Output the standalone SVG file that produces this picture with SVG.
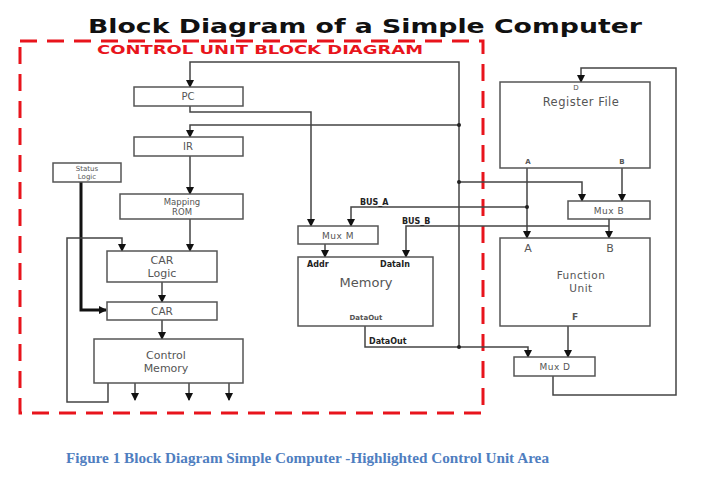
<svg xmlns="http://www.w3.org/2000/svg" width="706" height="482" viewBox="0 0 706 482">
<defs>
<marker id="ah" markerWidth="8" markerHeight="8" refX="7" refY="4" orient="auto" markerUnits="userSpaceOnUse">
<path d="M0,0 L8,4 L0,8 Z" fill="#111"/>
</marker>
<style>
.box{fill:#fff;stroke:#555;stroke-width:1.5}
.ln{fill:none;stroke:#444;stroke-width:1.5}
.t{font-family:"DejaVu Sans",Verdana,sans-serif;fill:#555;text-anchor:middle}
.sb{font-family:"DejaVu Sans",Verdana,sans-serif;font-weight:bold;fill:#222;font-size:8px}
.dot{fill:#222}
</style>
</defs>
<rect width="706" height="482" fill="#fff"/>
<text x="88" y="33" font-family="DejaVu Sans, Verdana, sans-serif" font-weight="bold" font-size="19" fill="#111" textLength="554" lengthAdjust="spacingAndGlyphs">Block Diagram of a Simple Computer</text>
<rect x="20" y="41" width="463" height="372" fill="none" stroke="#e8141c" stroke-width="3" stroke-dasharray="17,10"/>
<text x="97" y="54" font-family="DejaVu Sans, Verdana, sans-serif" font-weight="bold" font-size="11.5" fill="#e8141c" textLength="326" lengthAdjust="spacingAndGlyphs">CONTROL UNIT BLOCK DIAGRAM</text>

<g id="connectors">
<path class="ln" d="M459,347 V62 H190 V87" marker-end="url(#ah)"/>
<path class="ln" d="M459,125 H190 V137" marker-end="url(#ah)"/>
<path class="ln" d="M190,106 V112 H311 V226" marker-end="url(#ah)"/>
<path class="ln" d="M190,156 V194" marker-end="url(#ah)"/>
<path class="ln" d="M190,219 V251" marker-end="url(#ah)"/>
<path fill="none" stroke="#111" stroke-width="3" d="M81,182 V310 H106" marker-end="url(#ah)"/>
<path class="ln" d="M108,383 V402 H67 V238 H122 V251" marker-end="url(#ah)"/>
<path class="ln" d="M162,282 V302" marker-end="url(#ah)"/>
<path class="ln" d="M162,320 V339" marker-end="url(#ah)"/>
<path class="ln" d="M135,383 V400" marker-end="url(#ah)"/>
<path class="ln" d="M189,383 V400" marker-end="url(#ah)"/>
<path class="ln" d="M229,383 V400" marker-end="url(#ah)"/>
<path class="ln" d="M527,207 H351 V226" marker-end="url(#ah)"/>
<path class="ln" d="M609,226 H406 V257" marker-end="url(#ah)"/>
<path class="ln" d="M325,244 V257" marker-end="url(#ah)"/>
<path class="ln" d="M365,326 V347 H528 V357" marker-end="url(#ah)"/>
<path class="ln" d="M459,182 H582 V201" marker-end="url(#ah)"/>
<path class="ln" d="M527,168 V238" marker-end="url(#ah)"/>
<path class="ln" d="M622,168 V201" marker-end="url(#ah)"/>
<path class="ln" d="M609,219 V238" marker-end="url(#ah)"/>
<path class="ln" d="M568,326 V357" marker-end="url(#ah)"/>
<path class="ln" d="M553,376 V395 H676 V68 H581 V82" marker-end="url(#ah)"/>
<circle class="dot" cx="459" cy="125" r="2"/>
<circle class="dot" cx="459" cy="182" r="2"/>
<circle class="dot" cx="459" cy="347" r="2"/>
<circle class="dot" cx="527" cy="207" r="2"/>
<text class="sb" x="360" y="205">BUS_A</text>
<text class="sb" x="402" y="224">BUS_B</text>
<text class="sb" x="369" y="344">DataOut</text>
</g>

<g id="pc"><rect class="box" x="134" y="87" width="109" height="19"/><text class="t" x="188" y="100" font-size="10">PC</text></g>
<g id="ir"><rect class="box" x="134" y="137" width="109" height="19"/><text class="t" x="188" y="150" font-size="10">IR</text></g>
<g id="status-logic"><rect class="box" x="53" y="163" width="68" height="19"/><text class="t" x="87" y="171" font-size="7" fill="#333">Status</text><text class="t" x="87" y="179" font-size="7" fill="#333">Logic</text></g>
<g id="mapping-rom"><rect class="box" x="120" y="194" width="123" height="25"/><text class="t" x="182" y="205" font-size="8.5">Mapping</text><text class="t" x="182" y="215" font-size="8.5">ROM</text></g>
<g id="car-logic"><rect class="box" x="107" y="251" width="110" height="31"/><text class="t" x="162" y="264" font-size="11">CAR</text><text class="t" x="162" y="277" font-size="11">Logic</text></g>
<g id="car"><rect class="box" x="107" y="302" width="110" height="18"/><text class="t" x="162" y="314.5" font-size="10.5">CAR</text></g>
<g id="control-memory"><rect class="box" x="94" y="339" width="149" height="44"/><text class="t" x="166" y="359" font-size="11">Control</text><text class="t" x="166" y="372" font-size="11">Memory</text></g>
<g id="mux-m"><rect class="box" x="298" y="226" width="80" height="18"/><text class="t" x="338" y="238.5" font-size="9" letter-spacing="0.5">Mux M</text></g>
<g id="memory"><rect class="box" x="298" y="257" width="135" height="69"/><text class="sb" x="307" y="267" font-size="7" fill="#333">Addr</text><text class="sb" x="380" y="267" font-size="7" fill="#333">DataIn</text><text class="t" x="366" y="287" font-size="13" fill="#445">Memory</text><text class="t" x="366" y="320" font-size="7" font-weight="bold" fill="#444">DataOut</text></g>
<g id="register-file"><rect class="box" x="500" y="82" width="150" height="86"/><text class="t" x="576" y="90" font-size="7">D</text><text class="t" x="581" y="106" font-size="11.5" letter-spacing="0.5">Register File</text><text class="t" x="528" y="164" font-size="7" font-weight="bold">A</text><text class="t" x="622" y="164" font-size="7" font-weight="bold">B</text></g>
<g id="mux-b"><rect class="box" x="568" y="201" width="82" height="18"/><text class="t" x="609" y="213.5" font-size="9" letter-spacing="0.5">Mux B</text></g>
<g id="function-unit"><rect class="box" x="500" y="238" width="150" height="88"/><text class="t" x="528" y="252" font-size="11">A</text><text class="t" x="610" y="252" font-size="11">B</text><text class="t" x="581" y="279" font-size="10.5" letter-spacing="0.5">Function</text><text class="t" x="581" y="292" font-size="10.5" letter-spacing="0.5">Unit</text><text class="t" x="575" y="320" font-size="9" font-weight="bold">F</text></g>
<g id="mux-d"><rect class="box" x="514" y="357" width="81" height="19"/><text class="t" x="555" y="370" font-size="9" letter-spacing="0.5">Mux D</text></g>

<text x="66" y="463" font-family="Liberation Serif, Times New Roman, serif" font-weight="bold" font-size="14" fill="#4f7ec0" textLength="483" lengthAdjust="spacingAndGlyphs">Figure 1 Block Diagram Simple Computer -Highlighted Control Unit Area</text>
</svg>
